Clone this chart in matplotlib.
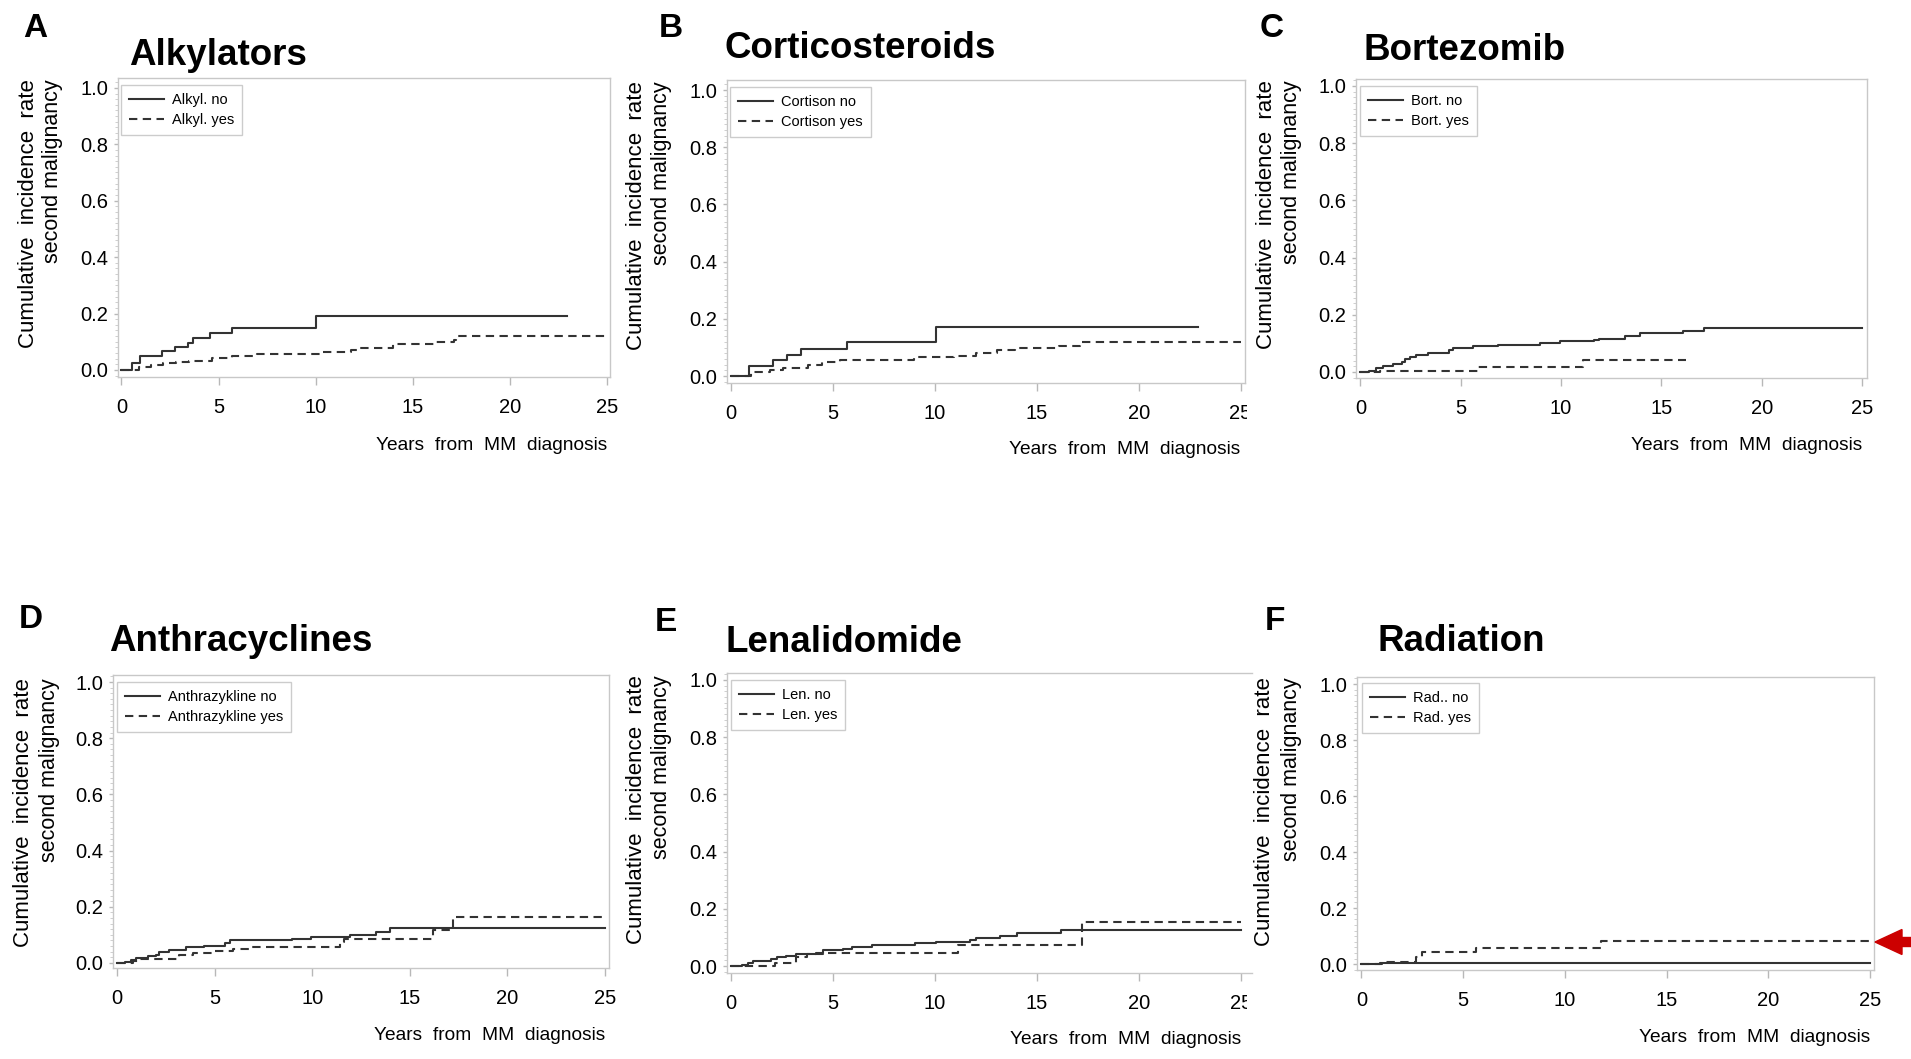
import matplotlib.pyplot as plt
from matplotlib.patches import FancyArrow
from matplotlib.transforms import Bbox, TransformedBbox
from matplotlib.ticker import MultipleLocator

plt.rcParams['font.family'] = ['Liberation Sans', 'DejaVu Sans']

# ---- data ----
titles = ["Alkylators", "Corticosteroids", "Bortezomib",
          "Anthracyclines", "Lenalidomide", "Radiation"]
letters = ["A", "B", "C", "D", "E", "F"]
legend_no = ["Alkyl. no", "Cortison no", "Bort. no",
             "Anthrazykline no", "Len. no", "Rad.. no"]
legend_yes = ["Alkyl. yes", "Cortison yes", "Bort. yes",
              "Anthrazykline yes", "Len. yes", "Rad. yes"]

a_no_t = [0, 0.54, 0.98, 2.11, 2.77, 3.43, 3.66, 4.55, 5.71, 10.0, 22.95]
a_no_v = [0, 0.024, 0.05, 0.066, 0.08, 0.096, 0.112, 0.131, 0.147, 0.19, 0.19]
a_yes_t = [0, 0.9, 1.5, 2.14, 2.8, 3.5, 4.64, 5.7, 6.96, 10.36, 11.8, 12.3,
           14.0, 16.2, 17.1, 17.2, 25]
a_yes_v = [0, 0.011, 0.017, 0.024, 0.029, 0.033, 0.044, 0.05, 0.057, 0.063,
           0.071, 0.079, 0.092, 0.099, 0.107, 0.119, 0.119]

b_no_t = [0, 0.88, 2.07, 2.72, 3.42, 5.7, 10.05, 22.93]
b_no_v = [0, 0.034, 0.055, 0.074, 0.096, 0.12, 0.171, 0.171]
b_yes_t = [0, 0.96, 1.93, 2.55, 3.77, 4.47, 5.35, 9.0, 10.96, 12.0, 13.07,
           13.95, 16.1, 17.1, 17.2, 25]
b_yes_v = [0, 0.014, 0.022, 0.03, 0.038, 0.049, 0.057, 0.066, 0.071, 0.082,
           0.09, 0.099, 0.104, 0.113, 0.121, 0.121]

c_no_t = [0, 0.44, 0.8, 1.15, 1.6, 2.08, 2.22, 2.49, 2.75, 3.37, 4.44, 4.62,
          5.6, 6.84, 8.97, 9.95, 11.63, 11.9, 13.2, 13.94, 16.07, 17.14, 25]
c_no_v = [0, 0.004, 0.014, 0.022, 0.028, 0.034, 0.044, 0.052, 0.058, 0.066,
          0.078, 0.083, 0.09, 0.096, 0.103, 0.108, 0.111, 0.117, 0.125, 0.135,
          0.142, 0.153, 0.153]
c_yes_t = [0, 1.0, 5.86, 11.1, 16.25]
c_yes_v = [0, 0.004, 0.019, 0.041, 0.041]

d_no_t = [0, 0.44, 0.71, 0.98, 1.6, 1.99, 2.14, 2.67, 3.56, 4.45, 5.52, 5.78,
          8.99, 9.96, 11.92, 13.26, 13.97, 25]
d_no_v = [0, 0.005, 0.012, 0.018, 0.024, 0.03, 0.04, 0.047, 0.055, 0.061,
          0.071, 0.08, 0.086, 0.092, 0.1, 0.11, 0.123, 0.123]
d_yes_t = [0, 0.8, 1.16, 3.2, 3.9, 4.9, 5.96, 6.85, 11.4, 11.65, 16.2, 17.2, 25]
d_yes_v = [0, 0.007, 0.015, 0.028, 0.036, 0.043, 0.049, 0.058, 0.073, 0.086,
           0.118, 0.165, 0.165]

e_no_t = [0, 0.56, 0.83, 1.09, 1.97, 2.23, 2.67, 3.2, 4.17, 4.52, 5.48, 5.92,
          6.89, 9.0, 10.05, 11.72, 11.99, 13.2, 14.0, 16.2, 25]
e_no_v = [0, 0.004, 0.01, 0.018, 0.024, 0.031, 0.035, 0.042, 0.047, 0.056,
          0.061, 0.068, 0.074, 0.08, 0.086, 0.092, 0.1, 0.106, 0.115, 0.125, 0.125]
e_yes_t = [0, 2.14, 3.2, 3.73, 4.5, 11.14, 17.2, 25]
e_yes_v = [0, 0.012, 0.033, 0.042, 0.045, 0.074, 0.153, 0.153]

f_no_t = [0, 0.93, 25]
f_no_v = [0, 0.003, 0.003]
f_yes_t = [0, 1.0, 2.7, 3.0, 5.65, 11.8, 25]
f_yes_v = [0, 0.007, 0.024, 0.045, 0.057, 0.081, 0.081]

curves = [(a_no_t, a_no_v, a_yes_t, a_yes_v), (b_no_t, b_no_v, b_yes_t, b_yes_v),
          (c_no_t, c_no_v, c_yes_t, c_yes_v), (d_no_t, d_no_v, d_yes_t, d_yes_v),
          (e_no_t, e_no_v, e_yes_t, e_yes_v), (f_no_t, f_no_v, f_yes_t, f_yes_v)]

xticks = [0, 5, 10, 15, 20, 25]
yticks = [0.0, 0.2, 0.4, 0.6, 0.8, 1.0]

# ---- layout, in pixels of the 1911x1059 picture ----
W, H = 1911, 1059
# axes box: left, top, right, bottom
boxes = [(118, 78, 610, 377), (727, 80, 1245, 383), (1356, 79, 1867, 378),
         (113, 675, 609, 968), (727, 673, 1252, 973), (1357, 677, 1874, 970)]
xlims = [(-0.175, 25.15), (-0.2, 25.22), (-0.22, 25.25),
         (-0.2, 25.2), (-0.2, 25.55), (-0.22, 25.2)]
ylims = [(-0.025, 1.035), (-0.024, 1.035), (-0.021, 1.024),
         (-0.018, 1.025), (-0.024, 1.024), (-0.021, 1.025)]
title_xy = [(129, 65), (724, 58), (1364, 60), (109, 651), (726, 652), (1378, 651)]
letter_xy = [(23, 37), (659, 37), (1260, 37), (19, 628), (655, 631), (1265, 630)]
ylab_xy = [(29, 53, 79), (637, 662, 81), (1267, 1292, 80),
           (24, 50, 678), (636, 661, 675), (1265, 1292, 677)]
xlab_xy = [(607, 445), (1240, 450), (1862, 445), (605, 1035), (1241, 1040), (1870, 1037)]
leg_xy = [(121, 85), (730, 87), (1360, 86), (117, 682), (731, 680), (1362, 683)]

line_col = '#333333'
frame_col = '#c8c8c8'

fig = plt.figure(figsize=(W / 100, H / 100), dpi=100)


def fx(px):
    return px / W


def fy(py):
    return 1 - py / H


for i in range(6):
    l, t, r, b = boxes[i]
    ax = fig.add_axes([fx(l), fy(b), fx(r) - fx(l), fy(t) - fy(b)])
    t_no, v_no, t_yes, v_yes = curves[i]
    h1, = ax.step(t_no, v_no, where='post', color=line_col, lw=1.5)
    h2, = ax.step(t_yes, v_yes, where='post', color=line_col, lw=1.5,
                  linestyle=(0, (4, 2.6)))
    ax.set_xlim(*xlims[i])
    ax.set_ylim(*ylims[i])
    ax.set_xticks(xticks)
    ax.set_yticks(yticks)
    ax.set_yticklabels([f"{v:.1f}" for v in yticks])
    ax.yaxis.set_minor_locator(MultipleLocator(0.02))
    ax.tick_params(axis='x', length=6, width=1, color='#b8b8b8', pad=9,
                   labelsize=14.5)
    ax.tick_params(axis='y', which='major', length=3, width=1, color='#b8b8b8',
                   pad=4, labelsize=14.5)
    ax.tick_params(axis='y', which='minor', length=2, width=0.6, color='#c8c8c8')
    for s in ax.spines.values():
        s.set_color(frame_col)
        s.set_linewidth(1.0)
    if i == 4:
        ax.spines['right'].set_visible(False)
    if i in (1, 4):
        clip = TransformedBbox(Bbox([[0, 0], [fx(1247), 1]]), fig.transFigure)
        for lab in ax.get_xticklabels():
            lab.set_clip_box(clip)
            lab.set_clip_on(True)

    leg = ax.legend([h1, h2], [legend_no[i], legend_yes[i]], loc='upper left',
                    bbox_to_anchor=(fx(leg_xy[i][0]), fy(leg_xy[i][1])),
                    bbox_transform=fig.transFigure, borderaxespad=0,
                    fancybox=False, edgecolor='#c0c0c0', fontsize=10.5,
                    handlelength=2.4, handletextpad=0.55, labelspacing=0.4,
                    borderpad=0.55)
    leg.get_frame().set_linewidth(1.0)

    fig.text(fx(title_xy[i][0]), fy(title_xy[i][1]), titles[i], fontsize=26.5,
             fontweight='bold', ha='left', va='baseline')
    fig.text(fx(letter_xy[i][0]), fy(letter_xy[i][1]), letters[i], fontsize=24,
             fontweight='bold', ha='left', va='baseline')
    x1, x2, ytop = ylab_xy[i]
    fig.text(fx(x1), fy(ytop), "Cumulative  incidence  rate", rotation=90,
             fontsize=16, ha='center', va='top')
    fig.text(fx(x2), fy(ytop), "second malignancy", rotation=90,
             fontsize=15.5, ha='center', va='top')
    fig.text(fx(xlab_xy[i][0]), fy(xlab_xy[i][1]), "Years  from  MM  diagnosis",
             fontsize=13.8, ha='right', va='center')

# red arrow at the right edge of panel F
arrow = FancyArrow(19.3, (H - 942) / 100, -0.55, 0, width=0.09, head_width=0.25,
                   head_length=0.27, length_includes_head=True,
                   color='#cc0000', transform=fig.dpi_scale_trans)
fig.add_artist(arrow)

fig.savefig("out.png", dpi=100)
